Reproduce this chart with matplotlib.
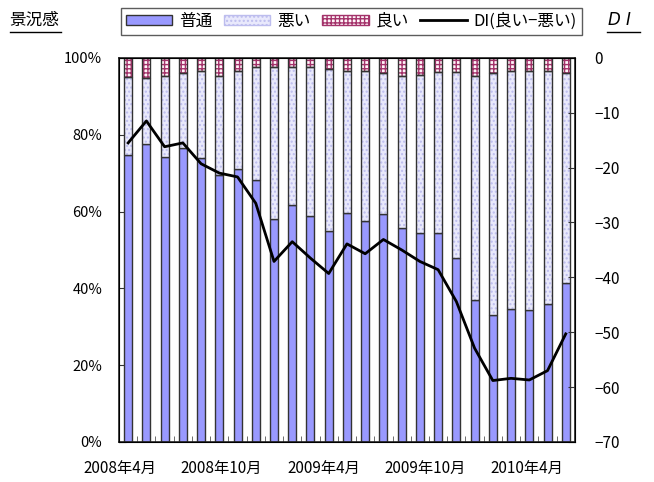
import matplotlib
matplotlib.use("Agg")
import matplotlib.pyplot as plt
from matplotlib.patches import Patch
from matplotlib.lines import Line2D
import numpy as np

plt.rcParams['font.family'] = ['Noto Sans CJK JP', 'DejaVu Sans']
plt.rcParams['hatch.linewidth'] = 1.0

months = ['2008年4月', '2008年10月', '2009年4月', '2009年10月', '2010年4月']
futsu = [74.7, 77.5, 74.1, 76.5, 73.9, 69.6, 71.1, 68.3, 58.0, 61.7, 58.9, 54.9, 59.7,
         57.6, 59.4, 55.6, 54.3, 54.3, 47.8, 37.0, 33.1, 34.7, 34.4, 36.0, 41.5]
warui = [20.3, 17.2, 21.2, 19.5, 22.7, 25.7, 25.5, 29.3, 39.6, 35.9, 38.7, 42.3, 36.9,
         39.0, 36.6, 39.7, 41.3, 42.0, 48.5, 58.3, 62.9, 61.9, 62.2, 60.6, 54.5]
yoi = [5.0, 5.3, 4.7, 4.0, 3.4, 4.7, 3.4, 2.4, 2.4, 2.4, 2.4, 2.8, 3.4,
       3.4, 4.0, 4.7, 4.4, 3.7, 3.7, 4.7, 4.0, 3.4, 3.4, 3.4, 4.0]
di = [-15.5, -11.5, -16.2, -15.5, -19.3, -21.0, -21.7, -26.5, -37.1, -33.5, -36.5, -39.3, -33.9,
      -35.7, -33.1, -35.0, -37.1, -38.6, -44.4, -52.9, -58.8, -58.4, -58.7, -57.0, -50.3]

# positions of the month labels along the category axis (Excel spreads them evenly)
label_pos = [-0.47, 5.12, 10.71, 16.29, 21.88]

x = np.arange(len(futsu))
futsu = np.array(futsu); warui = np.array(warui); yoi = np.array(yoi)
w = 0.44
edge = '#333333'
c_futsu = '#9999FF'
c_warui = '#E9E9FC'
c_warui_h = '#BDBDEE'
c_yoi = '#FFF4F8'
c_yoi_h = '#A3326A'

fig = plt.figure(figsize=(6.54, 4.82), dpi=100)
ax = fig.add_axes([0.182, 0.083, 0.697, 0.797])

ax.bar(x, futsu, w, color=c_futsu, edgecolor=edge, linewidth=1, zorder=2)
ax.bar(x, warui, w, bottom=futsu, color=c_warui, edgecolor=c_warui_h, hatch='....', linewidth=0, zorder=2)
ax.bar(x, warui, w, bottom=futsu, fill=False, edgecolor=edge, linewidth=1, zorder=3)
ax.bar(x, yoi, w, bottom=futsu + warui, color=c_yoi, edgecolor=c_yoi_h, hatch='++++', linewidth=0, zorder=2)
ax.bar(x, yoi, w, bottom=futsu + warui, fill=False, edgecolor=edge, linewidth=1, zorder=3)

ax.set_xlim(-0.5, len(x) - 0.5)
ax.set_ylim(0, 100)
ax.set_yticks([0, 20, 40, 60, 80, 100])
ax.set_yticklabels(['0%', '20%', '40%', '60%', '80%', '100%'])
ax.tick_params(axis='y', direction='in', length=5, pad=12, labelsize=10.5, color='#333333')
ax.set_xticks(label_pos)
ax.set_xticklabels(months)
ax.set_xticks(np.arange(-0.5, len(x), 1), minor=True)
ax.tick_params(axis='x', which='major', length=0, pad=13, labelsize=11)
ax.tick_params(axis='x', which='minor', direction='in', length=4, color='#555555')
for s in ax.spines.values():
    s.set_linewidth(1.2)
    s.set_color('#222222')

ax2 = ax.twinx()
ax2.plot(x, di, color='black', linewidth=2, zorder=5)
ax2.set_ylim(-70, 0)
ax2.set_yticks(np.arange(-70, 1, 10))
ax2.set_yticklabels(['−%d' % (-v) if v < 0 else '0' for v in np.arange(-70, 1, 10)])
ax2.tick_params(axis='y', direction='in', length=5, pad=14, labelsize=11, color='#333333')
ax2.set_xlim(-0.5, len(x) - 0.5)

handles = [
    Patch(facecolor=c_futsu, edgecolor=edge, label='普通'),
    Patch(facecolor=c_warui, edgecolor=c_warui_h, hatch='....', label='悪い'),
    Patch(facecolor=c_yoi, edgecolor=c_yoi_h, hatch='++++', label='良い'),
    Line2D([0], [0], color='black', linewidth=2, label='DI(良い−悪い)'),
]
leg = fig.legend(handles=handles, loc='center', bbox_to_anchor=(0.537, 0.956), ncol=4,
                 frameon=True, fancybox=False, edgecolor='#333333', fontsize=12,
                 handlelength=2.8, handleheight=0.6, handletextpad=0.4, columnspacing=0.7,
                 borderpad=0.3, borderaxespad=0)
leg.get_frame().set_linewidth(1)

fig.text(0.015, 0.958, '景況感', fontsize=12, style='italic', ha='left', va='center')
fig.add_artist(Line2D([0.015, 0.094], [0.934, 0.934], color='black', linewidth=1, transform=fig.transFigure))
fig.text(0.930, 0.958, 'D I', fontsize=12, style='italic', ha='left', va='center', family='DejaVu Sans')
fig.add_artist(Line2D([0.928, 0.978], [0.934, 0.934], color='black', linewidth=1, transform=fig.transFigure))

fig.savefig('out.png', dpi=100)
